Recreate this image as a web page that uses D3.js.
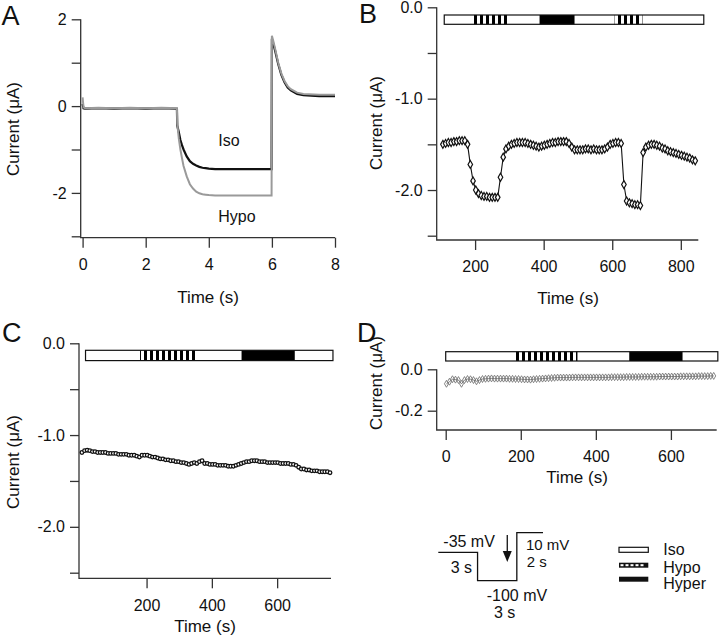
<!DOCTYPE html>
<html><head><meta charset="utf-8">
<script src="https://cdn.jsdelivr.net/npm/d3@7"></script>
<style>
html,body{margin:0;padding:0;background:#fff;}
text{font-family:"Liberation Sans",Arial,sans-serif;fill:#111;}
</style></head>
<body><svg id="c" width="720" height="642"></svg>
<script>
// ---------- DATA ----------
// Panel A: current traces (µA) vs time (s)
const tA = [0, 0.03, 0.08, 0.5, 1.0, 1.5, 2.0, 2.5, 2.99, 3.0, 3.05, 3.1, 3.15, 3.2, 3.3, 3.4, 3.5, 3.6, 3.7, 3.8, 3.9, 4.0, 4.2, 4.5, 5.0, 5.5, 5.99, 6.0, 6.05, 6.1, 6.2, 6.3, 6.4, 6.5, 6.6, 6.8, 7.0, 7.5, 8.0];
const isoA = [0.05, -0.05, -0.06, -0.05, -0.06, -0.05, -0.06, -0.05, -0.06, -0.45, -0.6, -0.78, -0.9, -1.0, -1.16, -1.27, -1.33, -1.37, -1.4, -1.42, -1.43, -1.44, -1.45, -1.45, -1.45, -1.45, -1.45, 1.55, 1.42, 1.28, 0.97, 0.72, 0.55, 0.43, 0.36, 0.28, 0.25, 0.23, 0.23];
const hypoA = [0.2, -0.03, -0.05, -0.04, -0.05, -0.04, -0.05, -0.04, -0.05, -0.4, -0.75, -1.0, -1.2, -1.38, -1.62, -1.8, -1.9, -1.97, -2.01, -2.03, -2.04, -2.05, -2.06, -2.06, -2.06, -2.06, -2.06, 1.62, 1.48, 1.33, 1.0, 0.75, 0.58, 0.46, 0.39, 0.31, 0.28, 0.26, 0.26];
const xTicksA = [0, 2, 4, 6, 8];
const yTicksA = [-3, -2, -1, 0, 1, 2];
const yLabelsA = {"-2": "-2", "0": "0", "2": "2"};

// Panel B
const tB = [106,114,122,130,138,146,154,162,170,178,186,194,202,210,218,226,234,242,250,258,266,274,282,290,298,306,314,322,330,338,346,354,362,370,378,386,394,402,410,418,426,434,442,450,458,466,474,482,490,498,506,514,522,530,538,546,554,562,570,578,586,594,602,610,618,626,634,642,650,658,666,674,682,690,698,706,714,722,730,738,746,754,762,770,778,786,794,802,810,818,826,834,842];
const curB = [-1.50,-1.49,-1.48,-1.48,-1.47,-1.47,-1.46,-1.46,-1.46,-1.50,-1.72,-1.90,-2.00,-2.04,-2.06,-2.07,-2.07,-2.08,-2.08,-2.08,-2.08,-1.86,-1.64,-1.55,-1.52,-1.50,-1.49,-1.48,-1.48,-1.48,-1.48,-1.49,-1.50,-1.51,-1.52,-1.53,-1.52,-1.51,-1.50,-1.49,-1.48,-1.48,-1.47,-1.47,-1.47,-1.47,-1.49,-1.53,-1.56,-1.56,-1.56,-1.56,-1.55,-1.55,-1.56,-1.55,-1.56,-1.56,-1.56,-1.55,-1.53,-1.50,-1.49,-1.48,-1.48,-1.49,-1.94,-2.12,-2.14,-2.15,-2.16,-2.16,-2.17,-1.59,-1.53,-1.51,-1.50,-1.50,-1.51,-1.52,-1.54,-1.55,-1.57,-1.58,-1.59,-1.60,-1.61,-1.62,-1.63,-1.64,-1.65,-1.67,-1.68];
const solB = [["Iso",110,190],["Hypo",190,293],["Iso",293,388],["Hyper",388,490],["Iso",490,607],["Hypo",607,688],["Iso",688,867]];
const xTicksB = [200, 400, 600, 800];
const yTicksBC = [-2.5, -2, -1.5, -1, -0.5, 0];
const yLabelsBC = {"-2": "-2.0", "-1": "-1.0", "0": "0.0"};

// Panel C
const tC = [2,10,18,26,34,42,50,58,66,74,82,90,98,106,114,122,130,138,146,154,162,170,178,186,194,202,210,218,226,234,242,250,258,266,274,282,290,298,306,314,322,330,338,346,354,362,370,378,386,394,402,410,418,426,434,442,450,458,466,474,482,490,498,506,514,522,530,538,546,554,562,570,578,586,594,602,610,618,626,634,642,650,658,666,674,682,690,698,706,714,722,730,738,746,754,762];
const curC = [-1.19,-1.17,-1.165,-1.17,-1.18,-1.18,-1.19,-1.19,-1.19,-1.19,-1.20,-1.20,-1.20,-1.20,-1.21,-1.21,-1.21,-1.21,-1.22,-1.22,-1.22,-1.23,-1.24,-1.22,-1.22,-1.22,-1.23,-1.24,-1.24,-1.25,-1.26,-1.26,-1.27,-1.27,-1.28,-1.28,-1.29,-1.29,-1.30,-1.30,-1.31,-1.32,-1.31,-1.30,-1.31,-1.29,-1.28,-1.31,-1.31,-1.32,-1.32,-1.32,-1.33,-1.33,-1.33,-1.33,-1.34,-1.34,-1.34,-1.33,-1.32,-1.31,-1.30,-1.29,-1.29,-1.28,-1.28,-1.28,-1.29,-1.29,-1.29,-1.30,-1.30,-1.30,-1.30,-1.30,-1.31,-1.31,-1.31,-1.31,-1.32,-1.32,-1.33,-1.35,-1.37,-1.37,-1.38,-1.38,-1.39,-1.39,-1.39,-1.40,-1.40,-1.40,-1.40,-1.41];
const solC = [["Iso",13,180],["Hypo",180,353],["Iso",353,491],["Hyper",491,654],["Iso",654,771]];
const xTicksC = [200, 400, 600];

// Panel D
const tD = [2,10,18,26,34,42,50,58,66,74,82,90,98,106,114,122,130,138,146,154,162,170,178,186,194,202,210,218,226,234,242,250,258,266,274,282,290,298,306,314,322,330,338,346,354,362,370,378,386,394,402,410,418,426,434,442,450,458,466,474,482,490,498,506,514,522,530,538,546,554,562,570,578,586,594,602,610,618,626,634,642,650,658,666,674,682,690,698,706,714];
const curD = [-0.070,-0.060,-0.048,-0.050,-0.052,-0.070,-0.052,-0.047,-0.048,-0.052,-0.058,-0.052,-0.047,-0.046,-0.045,-0.044,-0.045,-0.045,-0.045,-0.045,-0.045,-0.046,-0.046,-0.047,-0.047,-0.048,-0.049,-0.049,-0.050,-0.048,-0.047,-0.046,-0.045,-0.044,-0.043,-0.042,-0.041,-0.040,-0.040,-0.040,-0.040,-0.040,-0.039,-0.039,-0.039,-0.039,-0.039,-0.039,-0.039,-0.039,-0.039,-0.039,-0.039,-0.039,-0.039,-0.038,-0.038,-0.038,-0.038,-0.038,-0.037,-0.037,-0.037,-0.037,-0.037,-0.036,-0.036,-0.036,-0.036,-0.036,-0.036,-0.035,-0.035,-0.035,-0.035,-0.035,-0.035,-0.035,-0.034,-0.034,-0.034,-0.034,-0.034,-0.034,-0.033,-0.033,-0.033,-0.033,-0.032,-0.032];
const solD = [["Iso",0,186],["Hypo",186,351],["Iso",351,489],["Hyper",489,631],["Iso",631,725]];
const xTicksD = [0, 200, 400, 600];
const yTicksD = [-0.2, 0];
const yLabelsD = {"-0.2": "-0.2", "0": "0.0"};

// Protocol (mV, s)
const protoLevels = [-35, -100, 10];
const protoDur = [3, 3, 2];
const protoLabels = ["-35 mV", "3 s", "-100 mV", "3 s", "10 mV", "2 s"];
const legendNames = ["Iso", "Hypo", "Hyper"];

// ---------- DRAWING ----------
const svg = d3.select("#c");
const defs = svg.append("defs");
defs.append("pattern").attr("id","stripes").attr("patternUnits","userSpaceOnUse")
  .attr("width",6).attr("height",40)
  .append("rect").attr("width",3).attr("height",40).attr("fill","#000");

const AX = "#333";

function axes(g, o) {
  const xa = d3.axisBottom(o.x).tickValues(o.xTicks).tickSize(10).tickPadding(11).tickFormat(o.xFmt || d3.format("d"));
  const gx = g.append("g").attr("transform",`translate(0,${o.xAxisY})`).call(xa);
  const ya = d3.axisLeft(o.y).tickValues(o.yTicks).tickSize(9).tickPadding(5)
     .tickFormat(d => { const k = String(+d.toFixed(3)); return o.yLabels[k] !== undefined ? o.yLabels[k] : ""; });
  const gy = g.append("g").attr("transform",`translate(${o.yAxisX},0)`).call(ya);
  [gx, gy].forEach(a => {
    a.select(".domain").remove();
    a.selectAll(".tick line").attr("stroke",AX).attr("stroke-width",1.3);
    a.selectAll(".tick text").attr("font-size",16).attr("fill","#111")
      .style("font-family",'"Liberation Sans",Arial,sans-serif');
  });
  g.append("path").attr("fill","none").attr("stroke",AX).attr("stroke-width",1.3)
    .attr("d",`M${o.yAxisX},${o.yTop}V${o.xAxisY}H${o.xEnd}`);
}

function solBar(g, x, segs, y0, h) {
  const x0 = x(segs[0][1]), x1 = x(segs[segs.length-1][2]);
  g.append("rect").attr("x",x0).attr("y",y0).attr("width",x1-x0).attr("height",h)
    .attr("fill","#fff");
  g.selectAll(null).data(segs.filter(s => s[0] !== "Iso")).enter().append("rect")
    .attr("x", d => x(d[1])).attr("y", y0).attr("width", d => x(d[2]) - x(d[1])).attr("height", h)
    .attr("fill", d => d[0] === "Hyper" ? "#000" : "url(#stripes)");
  g.append("rect").attr("x",x0).attr("y",y0).attr("width",x1-x0).attr("height",h)
    .attr("fill","none").attr("stroke","#111").attr("stroke-width",1.2);
}

function label(text, x, y, size, anchor, rot) {
  const t = svg.append("text").text(text).attr("font-size",size).attr("text-anchor",anchor||"start");
  if (rot) t.attr("transform",`translate(${x},${y}) rotate(-90)`).attr("dy","0.35em");
  else t.attr("x",x).attr("y",y);
  return t;
}

// ---- Panel A ----
{
  const g = svg.append("g");
  const x = d3.scaleLinear().domain([-0.06, 8]).range([80.7, 335]);
  const y = d3.scaleLinear().domain([-3, 2]).range([236.3, 19.3]);
  axes(g, {x, y, xAxisY: 237.7, yAxisX: 80.7, yTop: 19.3, xEnd: 335, xTicks: xTicksA, yTicks: yTicksA, yLabels: yLabelsA});
  const line = d3.line().x((d,i) => x(tA[i])).y(d => y(d));
  g.append("path").attr("d", line(isoA)).attr("fill","none").attr("stroke","#111").attr("stroke-width",2.2);
  g.append("path").attr("d", line(hypoA)).attr("fill","none").attr("stroke","#9a9a9a").attr("stroke-width",2);
  label("Iso", 218.3, 146, 16);
  label("Hypo", 218.3, 221.5, 16);
  label("A", 1.5, 25, 27);
  label("Current (μA)", 13, 129, 17, "middle", true);
  label("Time (s)", 208, 303, 17, "middle");
}

// ---- Panel B ----
{
  const g = svg.append("g");
  const x = d3.scaleLinear().domain([88, 851]).range([436.7, 698.3]);
  const y = d3.scaleLinear().domain([-2.5, 0]).range([235.7, 7.3]);
  axes(g, {x, y, xAxisY: 240, yAxisX: 436.7, yTop: 7.3, xEnd: 698.3, xTicks: xTicksB, yTicks: yTicksBC, yLabels: yLabelsBC});
  solBar(g, x, solB, 15, 9.3);
  const line = d3.line().x((d,i) => x(tB[i])).y(d => y(d));
  g.append("path").attr("d", line(curB)).attr("fill","none").attr("stroke","#111").attr("stroke-width",1.1);
  g.selectAll(null).data(curB).enter().append("path")
    .attr("d", d3.symbol(d3.symbolDiamond, 18))
    .attr("transform", (d,i) => `translate(${x(tB[i])},${y(d)})`)
    .attr("fill","#fff").attr("stroke","#111").attr("stroke-width",1.2);
  label("B", 359, 22.5, 27);
  label("Current (μA)", 376, 123, 17, "middle", true);
  label("Time (s)", 568, 304, 17, "middle");
}

// ---- Panel C ----
{
  const g = svg.append("g");
  const x = d3.scaleLinear().domain([-7, 765]).range([79, 331]);
  const y = d3.scaleLinear().domain([-2.5, 0]).range([572.7, 343.3]);
  axes(g, {x, y, xAxisY: 578.3, yAxisX: 79, yTop: 343.3, xEnd: 331, xTicks: xTicksC, yTicks: yTicksBC, yLabels: yLabelsBC});
  solBar(g, x, solC, 350.3, 10.3);
  const line = d3.line().x((d,i) => x(tC[i])).y(d => y(d));
  g.append("path").attr("d", line(curC)).attr("fill","none").attr("stroke","#111").attr("stroke-width",1);
  g.selectAll(null).data(curC).enter().append("circle")
    .attr("cx", (d,i) => x(tC[i])).attr("cy", d => y(d)).attr("r", 1.8)
    .attr("fill","#fff").attr("stroke","#111").attr("stroke-width",1.3);
  label("C", 2, 341.7, 27);
  label("Current (μA)", 13, 462, 17, "middle", true);
  label("Time (s)", 205, 632, 17, "middle");
}

// ---- Panel D ----
{
  const g = svg.append("g");
  const x = d3.scaleLinear().domain([-24, 722]).range([436.7, 716.7]);
  const y = d3.scaleLinear().domain([-0.3, 0]).range([431.4, 369.3]);
  axes(g, {x, y, xAxisY: 430, yAxisX: 436.7, yTop: 369.3, xEnd: 716.7, xTicks: xTicksD, yTicks: yTicksD, yLabels: yLabelsD});
  solBar(g, x, solD, 351.7, 9.3);
  const line = d3.line().x((d,i) => x(tD[i])).y(d => y(d));
  g.append("path").attr("d", line(curD)).attr("fill","none").attr("stroke","#777").attr("stroke-width",1);
  g.selectAll(null).data(curD).enter().append("path")
    .attr("d", d3.symbol(d3.symbolDiamond, 14))
    .attr("transform", (d,i) => `translate(${x(tD[i])},${y(d)})`)
    .attr("fill","none").attr("stroke","#777").attr("stroke-width",0.9);
  label("D", 357, 341.7, 27);
  label("Current (μA)", 376, 383, 17, "middle", true);
  label("Time (s)", 577, 483, 17, "middle");
}

// ---- Protocol diagram ----
{
  const px = d3.scaleLinear().domain([0, 8]).range([438.3, 543]);
  const py = d3.scaleLinear().domain([-100, 10]).range([580.7, 532.7]);
  const pts = [];
  let t = 0;
  protoLevels.forEach((v, i) => { pts.push([t, v]); t += protoDur[i]; pts.push([t, v]); });
  svg.append("path").attr("d", d3.line().x(d => px(d[0])).y(d => py(d[1]))(pts))
    .attr("fill","none").attr("stroke","#111").attr("stroke-width",1.3);
  const ax = px(5.27);
  svg.append("line").attr("x1",ax).attr("x2",ax).attr("y1",535).attr("y2",553).attr("stroke","#111").attr("stroke-width",1.3);
  svg.append("path").attr("d",`M${ax-4.5},${551}L${ax+4.5},${551}L${ax},${562}Z`).attr("fill","#111");
  label(protoLabels[0], 443.3, 546.5, 16);
  label(protoLabels[1], 450.7, 572.5, 16);
  label(protoLabels[2], 486.7, 600.5, 16);
  label(protoLabels[3], 494, 618, 16);
  label(protoLabels[4], 526, 549.5, 15);
  label(protoLabels[5], 526.7, 566.5, 15);
}

// ---- Legend ----
{
  const ys = [547.3, 562.7, 576.7];
  const lx = 619, lw = 29.3, lh = 5;
  legendNames.forEach((n, i) => {
    const y0 = ys[i];
    if (n === "Iso") {
      svg.append("rect").attr("x",lx).attr("y",y0).attr("width",lw).attr("height",lh).attr("fill","#fff").attr("stroke","#111").attr("stroke-width",1.2);
    } else if (n === "Hypo") {
      svg.append("rect").attr("x",lx).attr("y",y0).attr("width",lw).attr("height",lh).attr("fill","#111");
      svg.selectAll(null).data(d3.range(lx + 1.5, lx + lw - 3, 5)).enter().append("rect")
        .attr("x", d => d).attr("y", y0 + 1.5).attr("width", 3).attr("height", 2).attr("fill","#fff");
    } else {
      svg.append("rect").attr("x",lx).attr("y",y0).attr("width",lw).attr("height",lh).attr("fill","#111");
    }
    label(n, 663.3, [555, 572.5, 589][i], 16);
  });
}
</script></body></html>
